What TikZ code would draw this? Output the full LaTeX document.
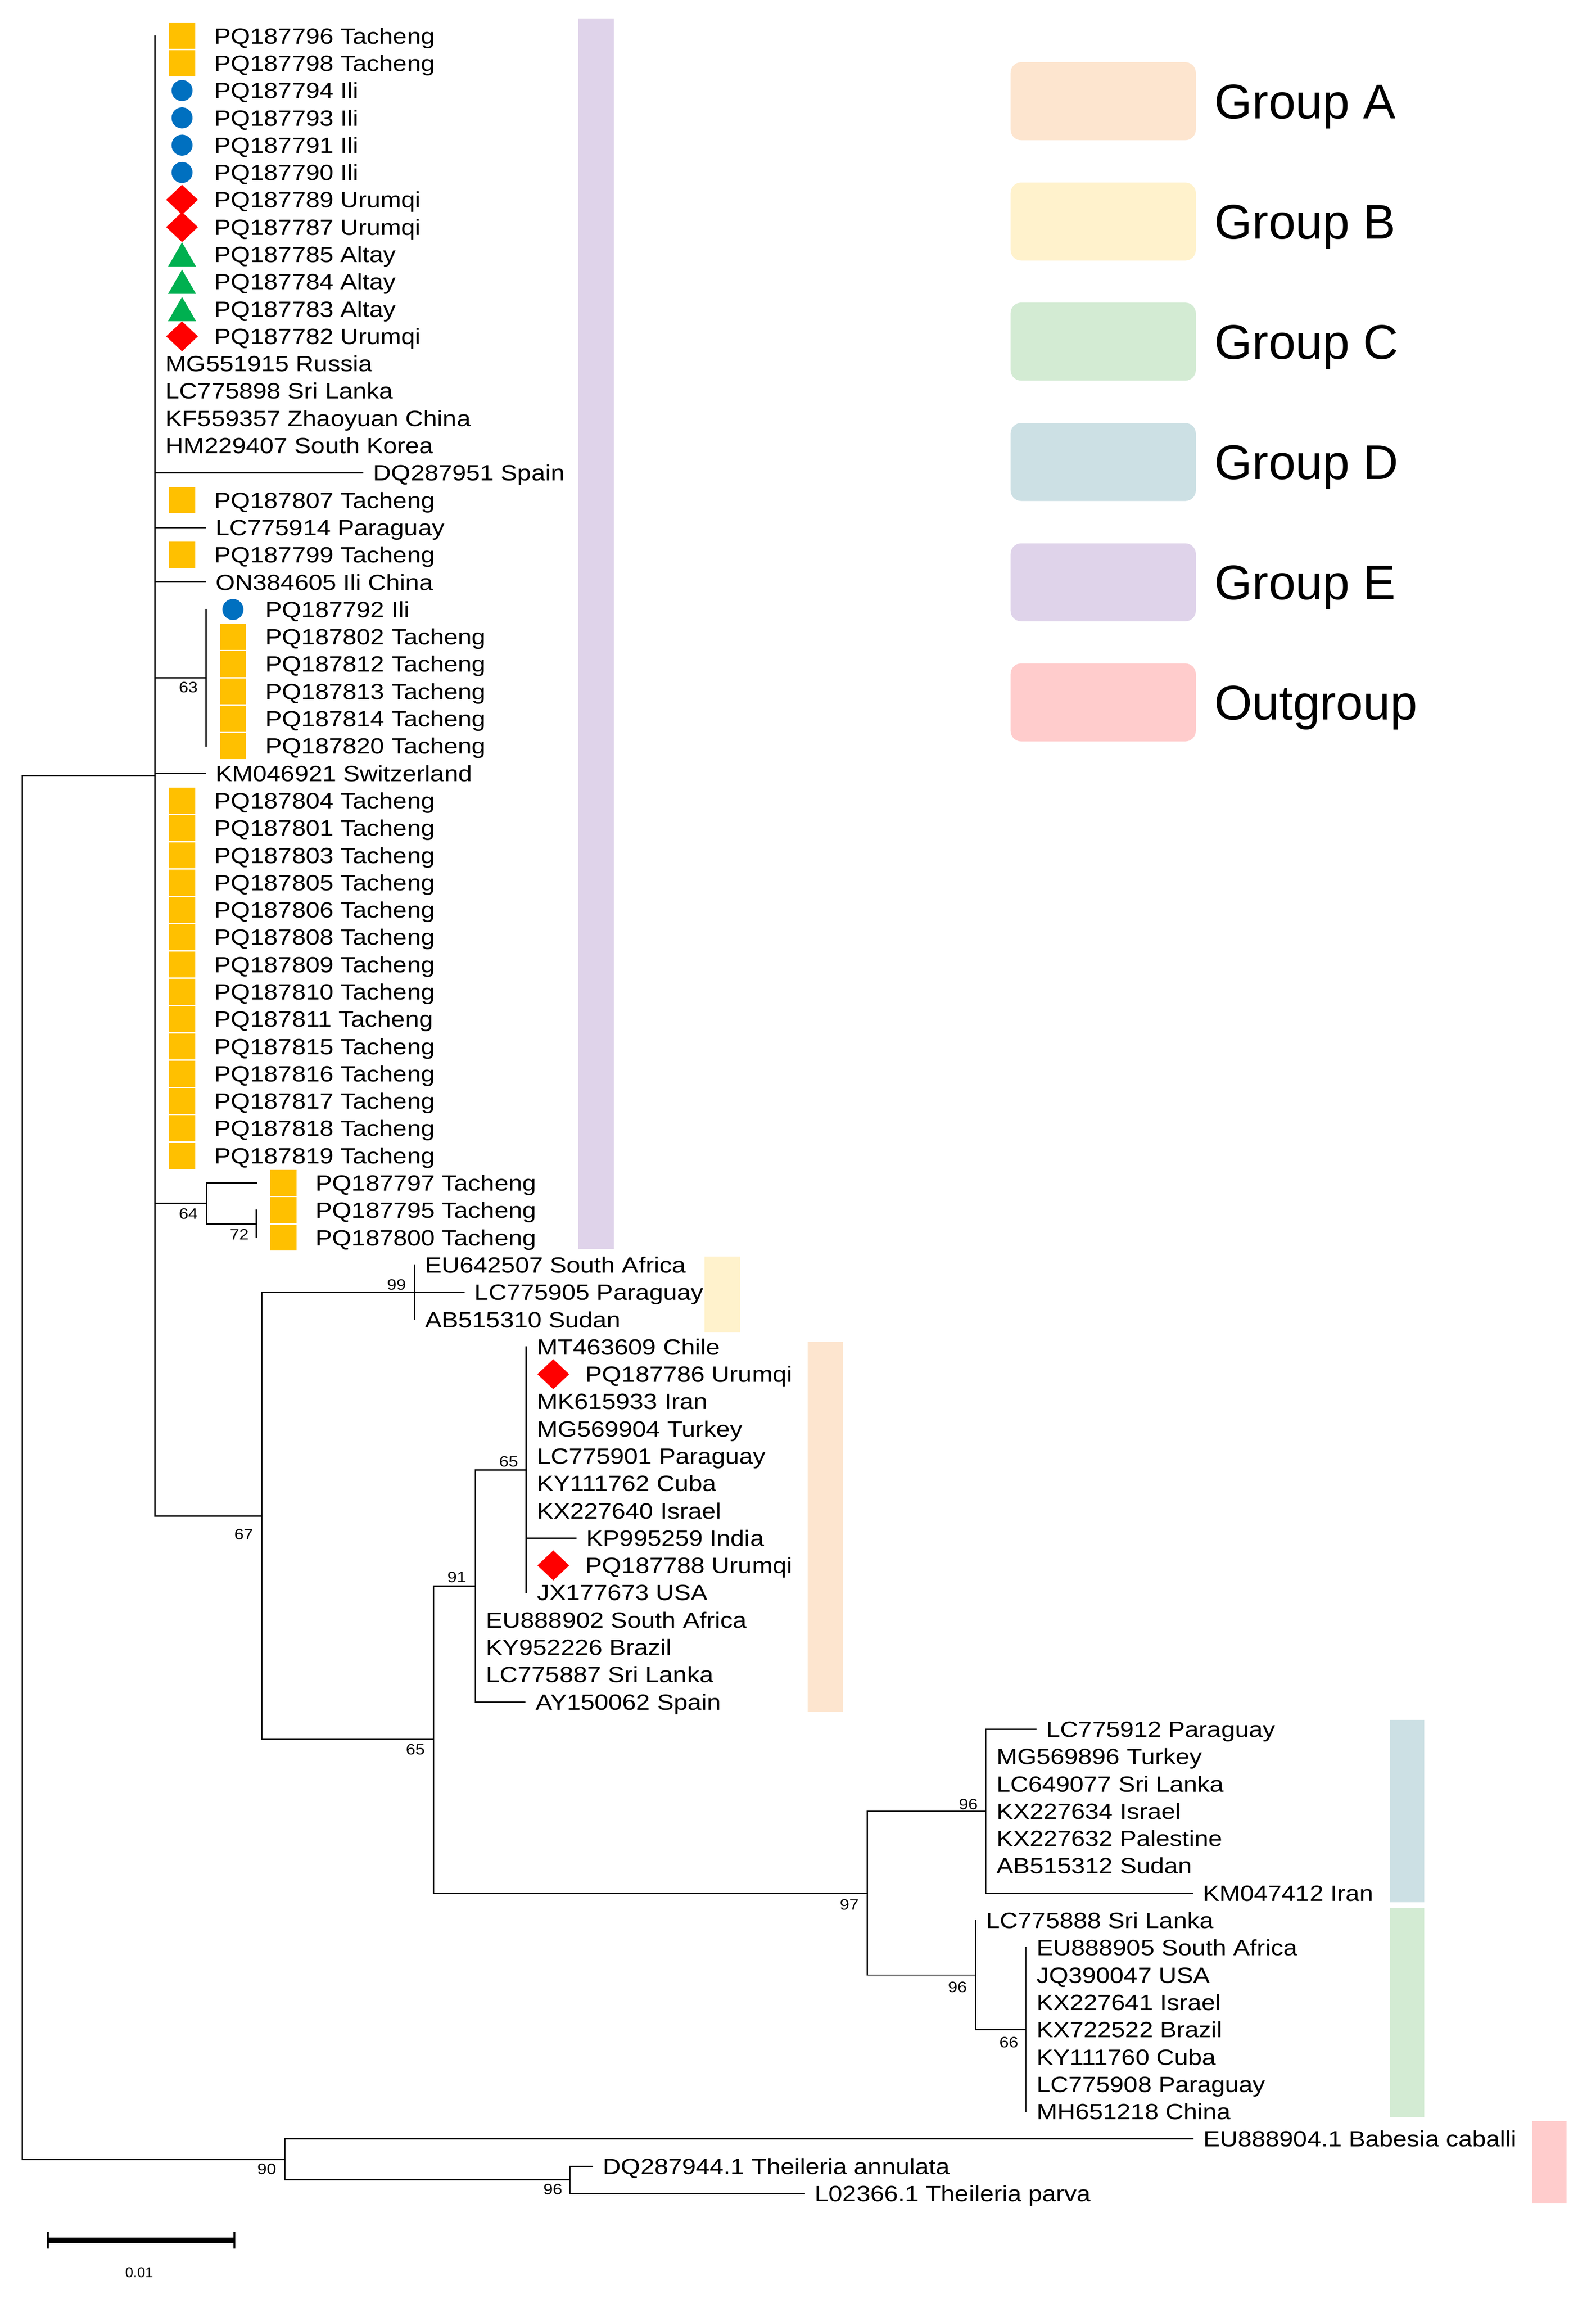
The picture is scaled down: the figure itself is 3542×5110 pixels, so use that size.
\documentclass[tikz,border=0pt]{standalone}
\usepackage{fontspec}
\setmainfont{Liberation Sans}
\usepackage{graphicx}
\usetikzlibrary{shapes.geometric}
\definecolor{cA}{RGB}{253,229,207}
\definecolor{cB}{RGB}{255,242,204}
\definecolor{cC}{RGB}{211,235,211}
\definecolor{cD}{RGB}{204,224,228}
\definecolor{cE}{RGB}{223,211,234}
\definecolor{cO}{RGB}{255,204,204}
\definecolor{sgold}{RGB}{255,192,0}
\definecolor{sblue}{RGB}{0,112,192}
\definecolor{sred}{RGB}{255,0,0}
\definecolor{sgreen}{RGB}{0,176,80}
\newcommand\tx[1]{\scalebox{1.13}[1]{#1}}
\newcommand\pleaf[3]{%
  \coordinate (p#1) at (#2,{rowy(#1)});
  \node[lbl] (t#1) at ({#2+23},{rowy(#1)+17.5}) {\tx{#3}};}
\newcommand\sleaf[4]{%
  \coordinate (p#1) at (#2,{rowy(#1)});
  \node[#3] (s#1) at ({#2+60},{rowy(#1)}) {};
  \node[lbl] (t#1) at ({#2+131},{rowy(#1)+17.5}) {\tx{#4}};}
\tikzset{
  br/.style={line width=0.9pt, line cap=rect},
  lbl/.style={inner sep=0pt, anchor=base west, font=\fontsize{14.7}{17}\selectfont},
  bs/.style={inner sep=0pt, anchor=center, font=\fontsize{10}{12}\selectfont},
  symsq/.style={rectangle, fill=sgold, minimum size=17.4pt, inner sep=0pt},
  symci/.style={circle, fill=sblue, minimum size=14pt, inner sep=0pt},
  symdi/.style={diamond, fill=sred, minimum width=21.3pt, minimum height=20.1pt, inner sep=0pt},
  symtr/.style={regular polygon, regular polygon sides=3, fill=sgreen, minimum size=21.5pt, inner sep=0pt, yshift=-2.7pt},
  legbox/.style={rectangle, rounded corners=7pt, minimum width=123.3pt, minimum height=51.9pt, inner sep=0pt},
  legtxt/.style={inner sep=0pt, anchor=base west, font=\fontsize{32.4}{38}\selectfont}
}
\begin{document}
\begin{tikzpicture}[x=0.3pt, y=-0.3pt, declare function={rowy(\k)=79.7+(\k-1)*60.6;}]
\useasboundingbox (0,0) rectangle (3542,5110);
\fill[white] (0,0) rectangle (3542,5110);

% group bars
\fill[cE] (1284,41) rectangle (1362,2772);
\fill[cB] (1564,2788) rectangle (1642,2956);
\fill[cA] (1793,2977) rectangle (1871,3798);
\fill[cD] (3085,3816) rectangle (3161,4221);
\fill[cC] (3085,4233) rectangle (3161,4698);
\fill[cO] (3400,4706) rectangle (3477,4889);

% legend
\node[legbox, fill=cA] (lgA) at (2448.5,224.5) {};
\node[legtxt] (lgAt) at (2695,263) {Group A};
\node[legbox, fill=cB] (lgB) at (2448.5,491.5) {};
\node[legtxt] (lgBt) at (2695,530) {Group B};
\node[legbox, fill=cC] (lgC) at (2448.5,758) {};
\node[legtxt] (lgCt) at (2695,796.5) {Group C};
\node[legbox, fill=cD] (lgD) at (2448.5,1025) {};
\node[legtxt] (lgDt) at (2695,1063.5) {Group D};
\node[legbox, fill=cE] (lgE) at (2448.5,1292) {};
\node[legtxt] (lgEt) at (2695,1330.5) {Group E};
\node[legbox, fill=cO] (lgO) at (2448.5,1558.5) {};
\node[legtxt] (lgOt) at (2695,1597) {Outgroup};

% leaves
\sleaf{1}{344}{symsq}{PQ187796 Tacheng}
\sleaf{2}{344}{symsq}{PQ187798 Tacheng}
\sleaf{3}{344}{symci}{PQ187794 Ili}
\sleaf{4}{344}{symci}{PQ187793 Ili}
\sleaf{5}{344}{symci}{PQ187791 Ili}
\sleaf{6}{344}{symci}{PQ187790 Ili}
\sleaf{7}{344}{symdi}{PQ187789 Urumqi}
\sleaf{8}{344}{symdi}{PQ187787 Urumqi}
\sleaf{9}{344}{symtr}{PQ187785 Altay}
\sleaf{10}{344}{symtr}{PQ187784 Altay}
\sleaf{11}{344}{symtr}{PQ187783 Altay}
\sleaf{12}{344}{symdi}{PQ187782 Urumqi}
\pleaf{13}{344}{MG551915 Russia}
\pleaf{14}{344}{LC775898 Sri Lanka}
\pleaf{15}{344}{KF559357 Zhaoyuan China}
\pleaf{16}{344}{HM229407 South Korea}
\pleaf{17}{805}{DQ287951 Spain}
\sleaf{18}{344}{symsq}{PQ187807 Tacheng}
\pleaf{19}{455}{LC775914 Paraguay}
\sleaf{20}{344}{symsq}{PQ187799 Tacheng}
\pleaf{21}{455}{ON384605 Ili China}
\sleaf{22}{457}{symci}{PQ187792 Ili}
\sleaf{23}{457}{symsq}{PQ187802 Tacheng}
\sleaf{24}{457}{symsq}{PQ187812 Tacheng}
\sleaf{25}{457}{symsq}{PQ187813 Tacheng}
\sleaf{26}{457}{symsq}{PQ187814 Tacheng}
\sleaf{27}{457}{symsq}{PQ187820 Tacheng}
\pleaf{28}{455}{KM046921 Switzerland}
\sleaf{29}{344}{symsq}{PQ187804 Tacheng}
\sleaf{30}{344}{symsq}{PQ187801 Tacheng}
\sleaf{31}{344}{symsq}{PQ187803 Tacheng}
\sleaf{32}{344}{symsq}{PQ187805 Tacheng}
\sleaf{33}{344}{symsq}{PQ187806 Tacheng}
\sleaf{34}{344}{symsq}{PQ187808 Tacheng}
\sleaf{35}{344}{symsq}{PQ187809 Tacheng}
\sleaf{36}{344}{symsq}{PQ187810 Tacheng}
\sleaf{37}{344}{symsq}{PQ187811 Tacheng}
\sleaf{38}{344}{symsq}{PQ187815 Tacheng}
\sleaf{39}{344}{symsq}{PQ187816 Tacheng}
\sleaf{40}{344}{symsq}{PQ187817 Tacheng}
\sleaf{41}{344}{symsq}{PQ187818 Tacheng}
\sleaf{42}{344}{symsq}{PQ187819 Tacheng}
\sleaf{43}{569}{symsq}{PQ187797 Tacheng}
\sleaf{44}{569}{symsq}{PQ187795 Tacheng}
\sleaf{45}{569}{symsq}{PQ187800 Tacheng}
\pleaf{46}{920}{EU642507 South Africa}
\pleaf{47}{1030}{LC775905 Paraguay}
\pleaf{48}{920}{AB515310 Sudan}
\pleaf{49}{1168}{MT463609 Chile}
\sleaf{50}{1168}{symdi}{PQ187786 Urumqi}
\pleaf{51}{1168}{MK615933 Iran}
\pleaf{52}{1168}{MG569904 Turkey}
\pleaf{53}{1168}{LC775901 Paraguay}
\pleaf{54}{1168}{KY111762 Cuba}
\pleaf{55}{1168}{KX227640 Israel}
\pleaf{56}{1278}{KP995259 India}
\sleaf{57}{1168}{symdi}{PQ187788 Urumqi}
\pleaf{58}{1168}{JX177673 USA}
\pleaf{59}{1055}{EU888902 South Africa}
\pleaf{60}{1055}{KY952226 Brazil}
\pleaf{61}{1055}{LC775887 Sri Lanka}
\pleaf{62}{1165}{AY150062 Spain}
\pleaf{63}{2299}{LC775912 Paraguay}
\pleaf{64}{2188}{MG569896 Turkey}
\pleaf{65}{2188}{LC649077 Sri Lanka}
\pleaf{66}{2188}{KX227634 Israel}
\pleaf{67}{2188}{KX227632 Palestine}
\pleaf{68}{2188}{AB515312 Sudan}
\pleaf{69}{2646}{KM047412 Iran}
\pleaf{70}{2165}{LC775888 Sri Lanka}
\pleaf{71}{2277}{EU888905 South Africa}
\pleaf{72}{2277}{JQ390047 USA}
\pleaf{73}{2277}{KX227641 Israel}
\pleaf{74}{2277}{KX722522 Brazil}
\pleaf{75}{2277}{KY111760 Cuba}
\pleaf{76}{2277}{LC775908 Paraguay}
\pleaf{77}{2277}{MH651218 China}
\pleaf{78}{2647}{EU888904.1 Babesia caballi}
\pleaf{79}{1315}{DQ287944.1 Theileria annulata}
\pleaf{80}{1785}{L02366.1 Theileria parva}

% internal nodes
\coordinate (root) at (50,3256.5);
\coordinate (nE) at (344,1721.6);
\coordinate (n63) at (457,1503.8);
\coordinate (n64) at (458,2670.4);
\coordinate (n72) at (569,2715.8);
\coordinate (n67) at (581,3363.5);
\coordinate (nB) at (920,2867.3);
\coordinate (n65o) at (962,3859.6);
\coordinate (n91) at (1055,3518.75);
\coordinate (n65i) at (1168,3261.2);
\coordinate (n97) at (1925,4200.5);
\coordinate (nD) at (2188,4018.7);
\coordinate (nC) at (2165,4382.3);
\coordinate (n66) at (2277,4503.5);
\coordinate (n90) at (632,4791.4);
\coordinate (n96o) at (1265,4836.8);

% verticals
\draw[br] (root |- nE) -- (root |- n90);
\draw[br] (nE |- p1) -- (nE |- n67);
\draw[br] (n63 |- p22) -- (n63 |- p27);
\draw[br] (n64 |- p43) -- (n64 |- n72);
\draw[br] (n72 |- p44) -- (n72 |- p45);
\draw[br] (n67 |- nB) -- (n67 |- n65o);
\draw[br] (nB |- p46) -- (nB |- p48);
\draw[br] (n65o |- n91) -- (n65o |- n97);
\draw[br] (n91 |- n65i) -- (n91 |- p62);
\draw[br] (n65i |- p49) -- (n65i |- p58);
\draw[br] (n97 |- nD) -- (n97 |- nC);
\draw[br] (nD |- p63) -- (nD |- p69);
\draw[br] (nC |- p70) -- (nC |- n66);
\draw[br] (n66 |- p71) -- (n66 |- p77);
\draw[br] (n90 |- p78) -- (n90 |- n96o);
\draw[br] (n96o |- p79) -- (n96o |- p80);

% internal horizontals
\draw[br] (root |- nE) -- (nE);
\draw[br] (nE |- n63) -- (n63);
\draw[br] (nE |- n64) -- (n64);
\draw[br] (n64 |- n72) -- (n72);
\draw[br] (nE |- n67) -- (n67);
\draw[br] (n67 |- nB) -- (nB);
\draw[br] (n67 |- n65o) -- (n65o);
\draw[br] (n65o |- n91) -- (n91);
\draw[br] (n91 |- n65i) -- (n65i);
\draw[br] (n65o |- n97) -- (n97);
\draw[br] (n97 |- nD) -- (nD);
\draw[br] (n97 |- nC) -- (nC);
\draw[br] (nC |- n66) -- (n66);
\draw[br] (root |- n90) -- (n90);
\draw[br] (n90 |- n96o) -- (n96o);

% leaf branches
\draw[br] (nE |- p17) -- (p17);
\draw[br] (nE |- p19) -- (p19);
\draw[br] (nE |- p21) -- (p21);
\draw[br] (nE |- p28) -- (p28);
\draw[br] (n64 |- p43) -- (p43);
\draw[br] (nB |- p47) -- (p47);
\draw[br] (n65i |- p56) -- (p56);
\draw[br] (n91 |- p62) -- (p62);
\draw[br] (nD |- p63) -- (p63);
\draw[br] (nD |- p69) -- (p69);
\draw[br] (n90 |- p78) -- (p78);
\draw[br] (n96o |- p79) -- (p79);
\draw[br] (n96o |- p80) -- (p80);

% bootstrap values
\node[bs] (b63) at (418,1525) {\tx{63}};
\node[bs] (b64) at (418,2693) {\tx{64}};
\node[bs] (b72) at (531,2739) {\tx{72}};
\node[bs] (b99) at (880,2851) {\tx{99}};
\node[bs] (b67) at (541,3405) {\tx{67}};
\node[bs] (b65i) at (1129,3243) {\tx{65}};
\node[bs] (b91) at (1014,3500) {\tx{91}};
\node[bs] (b65o) at (922,3882) {\tx{65}};
\node[bs] (b97) at (1885,4226) {\tx{97}};
\node[bs] (b96D) at (2149,4003) {\tx{96}};
\node[bs] (b96C) at (2125,4409) {\tx{96}};
\node[bs] (b66) at (2239,4532) {\tx{66}};
\node[bs] (b90) at (592,4813) {\tx{90}};
\node[bs] (b96o) at (1227,4858) {\tx{96}};

% scale bar
\coordinate (sbL) at (106,4971);
\coordinate (sbR) at (520,4971);
\draw[line width=3.9pt] (sbL) -- (sbR);
\draw[line width=1.2pt] ([yshift=5.4pt]sbL) -- ([yshift=-5.4pt]sbL);
\draw[line width=1.2pt] ([yshift=5.4pt]sbR) -- ([yshift=-5.4pt]sbR);
\node[inner sep=0pt, font=\fontsize{9.5}{11}\selectfont] (sblab) at (309,5042) {0.01};
\end{tikzpicture}
\end{document}
